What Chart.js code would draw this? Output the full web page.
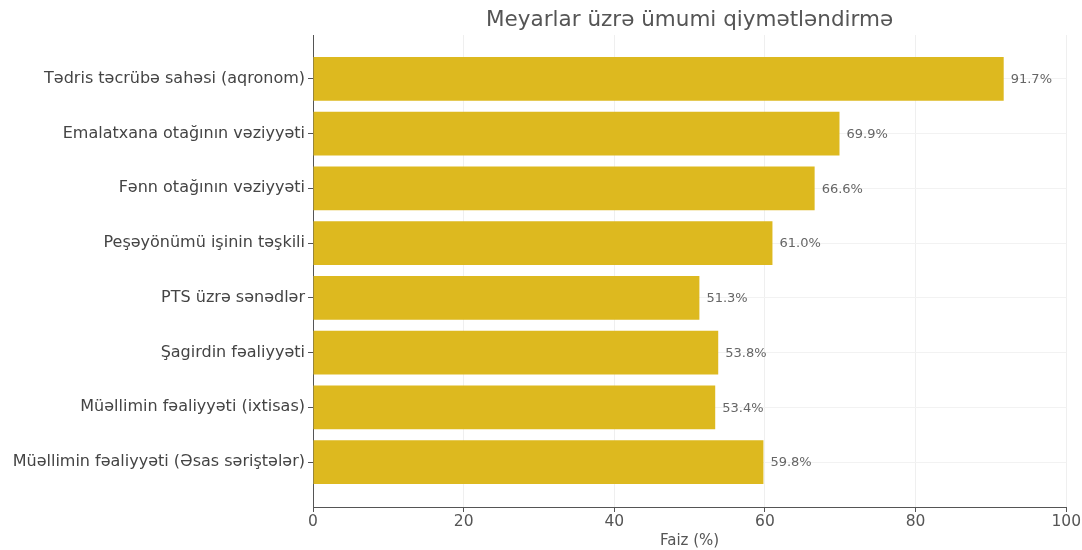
<!DOCTYPE html>
<html>
<head>
<meta charset="utf-8">
<script src="https://cdn.jsdelivr.net/npm/chart.js@4/dist/chart.umd.min.js"></script>
<style>
  html, body { margin: 0; padding: 0; background: #fff; }
  #wrap { width: 1082px; height: 550px; }
</style>
</head>
<body>
<div id="wrap"><canvas id="chart" width="1082" height="550"></canvas></div>
<script>
// chart values
const categories = [
  'Tədris təcrübə sahəsi (aqronom)',
  'Emalatxana otağının vəziyyəti',
  'Fənn otağının vəziyyəti',
  'Peşəyönümü işinin təşkili',
  'PTS üzrə sənədlər',
  'Şagirdin fəaliyyəti',
  'Müəllimin fəaliyyəti (ixtisas)',
  'Müəllimin fəaliyyəti (Əsas səriştələr)'
];
const values = [91.7, 69.9, 66.6, 61.0, 51.3, 53.8, 53.4, 59.8];
const xTicks = [0, 20, 40, 60, 80, 100];
const chartTitle = 'Meyarlar üzrə ümumi qiymətləndirmə';
const xTitle = 'Faiz (%)';

const FONT = '"DejaVu Sans", sans-serif';

// draws the percent text next to each bar
const barLabels = {
  id: 'barLabels',
  afterDatasetsDraw(chart) {
    const ctx = chart.ctx;
    const meta = chart.getDatasetMeta(0);
    ctx.save();
    ctx.font = '13px ' + FONT;
    ctx.fillStyle = '#666';
    ctx.textBaseline = 'middle';
    meta.data.forEach((bar, i) => {
      ctx.fillText(values[i].toFixed(1) + '%', bar.x + 7, bar.y + 1);
    });
    ctx.restore();
  }
};

// title centred over the plot area, like the original
const plotTitle = {
  id: 'plotTitle',
  afterDraw(chart) {
    const { ctx, chartArea } = chart;
    ctx.save();
    ctx.font = '21.5px ' + FONT;
    ctx.fillStyle = '#555';
    ctx.textAlign = 'center';
    ctx.textBaseline = 'middle';
    ctx.fillText(chartTitle, (chartArea.left + chartArea.right) / 2, 20);
    ctx.restore();
  }
};

const ctx = document.getElementById('chart').getContext('2d');
new Chart(ctx, {
  type: 'bar',
  data: {
    datasets: [{
      data: values.map((v, i) => ({ x: v, y: i })),
      backgroundColor: '#DDB91F',
      barPercentage: 0.8,
      categoryPercentage: 1.0
    }]
  },
  options: {
    indexAxis: 'y',
    responsive: false,
    animation: false,
    layout: { padding: { left: 0, right: 15, top: 35, bottom: 0 } },
    plugins: {
      legend: { display: false },
      tooltip: { enabled: false },
      title: { display: false }
    },
    scales: {
      x: {
        type: 'linear',
        min: 0,
        max: 100,
        afterBuildTicks: (scale) => { scale.ticks = xTicks.map(v => ({ value: v })); },
        afterFit: (scale) => { scale.height = 43; },
        grid: { color: '#efefef', tickColor: '#555', tickLength: 5 },
        border: { color: '#555', width: 1 },
        ticks: { font: { family: FONT, size: 15.5 }, color: '#555', padding: 1 },
        title: {
          display: true,
          text: xTitle,
          font: { family: FONT, size: 15 },
          color: '#555',
          padding: { top: 0, bottom: 0 }
        }
      },
      y: {
        type: 'linear',
        reverse: true,
        offset: false,
        min: -0.8,
        max: 7.82,
        afterBuildTicks: (scale) => { scale.ticks = categories.map((c, i) => ({ value: i })); },
        afterFit: (scale) => { scale.width = 313; },
        grid: { offset: false, color: '#f2f2f2', tickColor: '#555', tickLength: 5 },
        border: { color: '#555', width: 1 },
        ticks: {
          font: { family: FONT, size: 16 },
          color: '#444',
          padding: 3,
          callback: (v) => categories[v]
        }
      }
    }
  },
  plugins: [barLabels, plotTitle]
});
</script>
</body>
</html>
